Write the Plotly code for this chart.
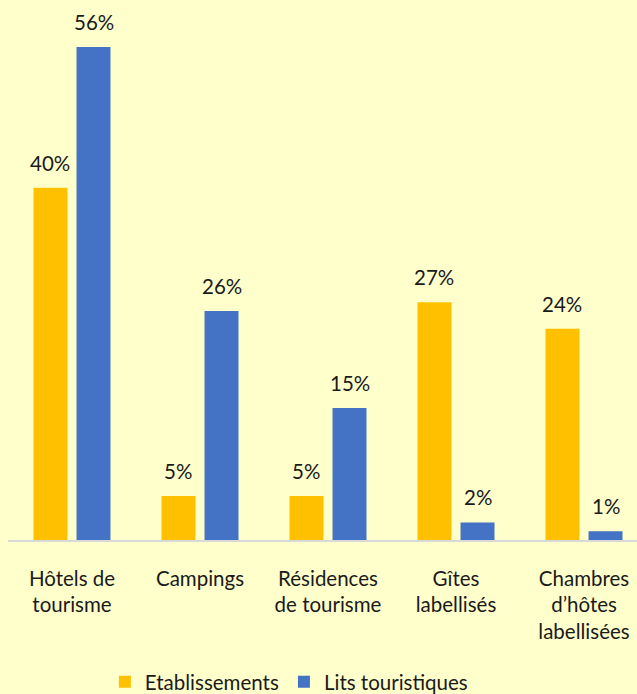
import plotly.graph_objects as go

categories = ["Hôtels de<br>tourisme", "Campings", "Résidences<br>de tourisme", "Gîtes<br>labellisés", "Chambres<br>d’hôtes<br>labellisées"]
etablissements = [40, 5, 5, 27, 24]
lits = [56, 26, 15, 2, 1]
series_names = ["Etablissements", "Lits touristiques"]

FONT = "Lato"
FS = 20.5
fig = go.Figure()
fig.add_trace(go.Bar(x=categories, y=etablissements, name=series_names[0],
                     marker=dict(color="#FFC000", line=dict(width=0))))
fig.add_trace(go.Bar(x=categories, y=lits, name=series_names[1],
                     marker=dict(color="#4472C4", line=dict(width=0))))

for i, c in enumerate(categories):
    for vals, xs in ((etablissements, -22), (lits, 22)):
        fig.add_annotation(x=c, y=vals[i], text=f"{vals[i]}%", showarrow=False,
                           xshift=xs, yanchor="bottom", yshift=11,
                           font=dict(family=FONT, size=FS, color="#1a1a1a"))

fig.update_layout(
    width=637, height=694,
    paper_bgcolor="#FFFFCC", plot_bgcolor="#FFFFCC",
    margin=dict(l=8, r=0, t=10, b=154, autoexpand=False),
    barmode="group", bargap=0.328, bargroupgap=0.21,
    font=dict(family=FONT, size=FS, color="#1a1a1a"),
    showlegend=True,
    legend=dict(orientation="h", x=0.154, xanchor="left", y=-0.268, yanchor="middle",
                font=dict(family=FONT, size=FS, color="#1a1a1a"), itemwidth=30,
                traceorder="normal"),
)
fig.update_xaxes(range=[-0.5, 4.414], showline=True, linecolor="#D9D9D9", linewidth=2,
                 ticks="outside", ticklen=19, tickcolor="rgba(0,0,0,0)",
                 tickfont=dict(family=FONT, size=FS, color="#1a1a1a"), showgrid=False,
                 automargin=False)
fig.update_yaxes(range=[0, 60.2], visible=False, showgrid=False, zeroline=False)

fig.write_html("out.html", config={"displayModeBar": False},
               post_script="document.body.style.margin='0';document.body.style.background='#FFFFCC';")
